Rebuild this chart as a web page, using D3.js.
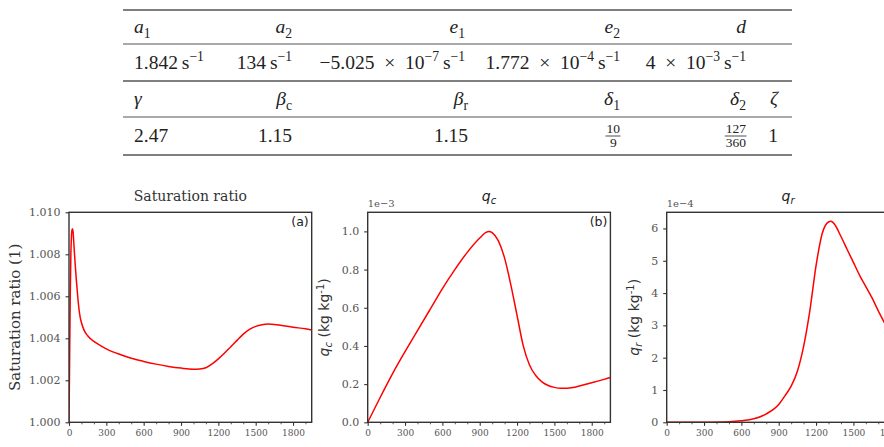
<!DOCTYPE html>
<html><head><meta charset="utf-8">
<script src="https://cdn.jsdelivr.net/npm/d3@7/dist/d3.min.js"></script>
<style>
html,body{margin:0;padding:0;background:#fff;}
svg{display:block;}
</style></head>
<body>
<svg id="chart" width="884" height="447"></svg>
<script>
// ---------------- DATA ----------------
const tableHead1 = ["a_1", "a_2", "e_1", "e_2", "d"];
const tableVal1 = ["1.842 s^-1", "134 s^-1", "−5.025 × 10^-7 s^-1", "1.772 × 10^-4 s^-1", "4 × 10^-3 s^-1"];
const tableHead2 = ["γ", "β_c", "β_r", "δ_1", "δ_2", "ζ"];
const tableVal2 = ["2.47", "1.15", "1.15", "10/9", "127/360", "1"];

const timeS = [0, 5, 10, 15, 20, 25, 30, 35, 40, 50, 60, 70, 80, 90, 100, 120, 150, 200, 250, 300, 400, 500, 600, 700, 800, 900, 1000, 1050, 1100, 1150, 1200, 1250, 1300, 1350, 1400, 1450, 1500, 1550, 1600, 1650, 1700, 1800, 1900, 1950];
const satRatio = [1.0000, 1.0030, 1.0060, 1.0080, 1.0089, 1.0092, 1.0092, 1.0089, 1.0084, 1.0075, 1.0067, 1.0060, 1.0054, 1.0050, 1.00475, 1.0044, 1.00412, 1.00385, 1.00366, 1.0035, 1.00325, 1.00305, 1.0029, 1.00277, 1.00266, 1.00258, 1.00253, 1.00254, 1.0026, 1.00278, 1.00302, 1.0033, 1.0036, 1.0039, 1.0042, 1.00443, 1.00457, 1.00465, 1.00468, 1.00466, 1.00462, 1.00453, 1.00445, 1.0044];

const timeQc = [0, 100, 200, 300, 400, 500, 550, 600, 700, 800, 900, 950, 975, 1000, 1050, 1100, 1150, 1200, 1250, 1300, 1350, 1400, 1450, 1500, 1550, 1600, 1650, 1700, 1800, 1900, 1950];
const qc = [0, 0.13, 0.255, 0.37, 0.48, 0.59, 0.645, 0.70, 0.80, 0.89, 0.965, 0.995, 1.0, 0.993, 0.95, 0.86, 0.72, 0.56, 0.40, 0.30, 0.245, 0.212, 0.193, 0.183, 0.178, 0.178, 0.182, 0.19, 0.207, 0.225, 0.235];

const timeQr = [0, 300, 500, 600, 700, 800, 900, 950, 1000, 1050, 1100, 1150, 1200, 1250, 1300, 1320, 1350, 1400, 1450, 1500, 1550, 1600, 1650, 1700, 1750, 1800, 1900, 1950];
const qr = [0, 0.005, 0.02, 0.05, 0.11, 0.26, 0.55, 0.82, 1.12, 1.58, 2.35, 3.45, 4.85, 5.85, 6.2, 6.22, 6.12, 5.75, 5.35, 4.95, 4.55, 4.2, 3.85, 3.45, 3.08, 2.75, 2.2, 2.0];

const xTicks = [0, 300, 600, 900, 1200, 1500, 1800];
const xMinor = [100, 200, 400, 500, 700, 800, 1000, 1100, 1300, 1400, 1600, 1700, 1900];
const yTicksA = [1.000, 1.002, 1.004, 1.006, 1.008, 1.010];
const yTicksB = [0.0, 0.2, 0.4, 0.6, 0.8, 1.0];
const yTicksC = [0, 1, 2, 3, 4, 5, 6];
const panelLetters = ["(a)", "(b)", null];
const offsetTexts = [null, "1e−3", "1e−4"];

// ---------------- LAYOUT ----------------
const svg = d3.select("#chart");
const SERIF = "Liberation Serif, Times New Roman, Times, serif";
const DJS = "DejaVu Serif, serif";
const DJSans = "DejaVu Sans, sans-serif";

function rich(g, x, y, anchor, str, size, headerMode) {
  const t = g.append("text").attr("x", x).attr("y", y).attr("text-anchor", anchor)
    .attr("font-family", SERIF).attr("font-size", size).attr("fill", "#222");
  let shift = 0;
  const addSeg = (txt, kind) => {
    let target = 0;
    if (kind === "sup") target = -0.42 * size;
    if (kind === "sub") target = 0.25 * size;
    const ts = t.append("tspan").text(txt);
    const dy = target - shift;
    if (dy !== 0) ts.attr("dy", dy);
    shift = target;
    if (kind === "sup" || kind === "sub") ts.attr("font-size", size * 0.7);
    if (kind === "it") ts.attr("font-style", "italic");
  };
  if (headerMode) {
    const parts = str.split("_");
    addSeg(parts[0], "it");
    if (parts[1]) addSeg(parts[1], "sub");
  } else {
    const toks = str.split(/(\^[^\s]+)/).filter(s => s.length);
    toks.forEach(tk => {
      if (tk[0] === "^") addSeg(tk.slice(1).replace("-", "−"), "sup");
      else addSeg(tk.replace(/ s/g, "\u2009s").replace(/ × /g, "\u2002×\u2002"), "n");
    });
  }
  return t;
}

function frac(g, xRight, yMid, str, size) {
  const [num, den] = str.split("/");
  const w = Math.max(num.length, den.length) * size * 0.5;
  const cx = xRight - w / 2;
  g.append("text").attr("x", cx).attr("y", yMid - 3).attr("text-anchor", "middle")
    .attr("font-family", SERIF).attr("font-size", size).attr("fill", "#222").text(num);
  g.append("text").attr("x", cx).attr("y", yMid + size * 0.85).attr("text-anchor", "middle")
    .attr("font-family", SERIF).attr("font-size", size).attr("fill", "#222").text(den);
  g.append("line").attr("x1", xRight - w - 1).attr("x2", xRight + 0.5).attr("y1", yMid).attr("y2", yMid)
    .attr("stroke", "#222").attr("stroke-width", 0.8);
}

// ---------- TABLE ----------
const tg = svg.append("g");
const tx0 = 123, tx1 = 792;
const rules = [{y: 10, w: 1.6}, {y: 44, w: 1}, {y: 81, w: 1.6}, {y: 117, w: 1}, {y: 155, w: 1.6}];
rules.forEach(r => tg.append("line").attr("x1", tx0).attr("x2", tx1).attr("y1", r.y).attr("y2", r.y)
  .attr("stroke", "#555").attr("stroke-width", r.w));
const cols1 = [{x: 134, a: "start"}, {x: 292, a: "end"}, {x: 465, a: "end"}, {x: 620, a: "end"}, {x: 746, a: "end"}];
const cols2 = [{x: 134, a: "start"}, {x: 292, a: "end"}, {x: 468, a: "end"}, {x: 620, a: "end"}, {x: 746, a: "end"}, {x: 778, a: "end"}];
const FS = 19.5;
tableHead1.forEach((h, i) => rich(tg, cols1[i].x, 33, cols1[i].a, h, FS, true));
tableVal1.forEach((v, i) => rich(tg, cols1[i].x, 69, cols1[i].a, v, FS, false));
tableHead2.forEach((h, i) => rich(tg, cols2[i].x, 105, cols2[i].a, h, FS, true));
tableVal2.forEach((v, i) => {
  if (v.includes("/")) frac(tg, cols2[i].x, 136, v, 13.5);
  else rich(tg, cols2[i].x, 142, cols2[i].a, v, FS, false);
});

// ---------- PANELS ----------
const pLeft = [69, 367.7, 666.7];
const pW = 242.7, pTop = 212.3, pBot = 422.3;
const x = d3.scaleLinear().domain([0, 1950]);
const panels = [
  {t: timeS, v: satRatio, dom: [1.000, 1.010], ticks: yTicksA, fmt: d3.format(".3f")},
  {t: timeQc, v: qc, dom: [0, 1.1], ticks: yTicksB, fmt: d3.format(".1f")},
  {t: timeQr, v: qr, dom: [0, 6.5], ticks: yTicksC, fmt: d3.format("d")}
];

panels.forEach((p, k) => {
  const g = svg.append("g").attr("transform", `translate(${pLeft[k]},0)`);
  const xs = x.copy().range([0, pW]);
  const ys = d3.scaleLinear().domain(p.dom).range([pBot, pTop]);
  const clipId = "clip" + k;
  g.append("clipPath").attr("id", clipId).append("rect").attr("x", 0).attr("y", pTop).attr("width", pW).attr("height", pBot - pTop);
  const line = d3.line().x((d, i) => xs(p.t[i])).y(d => ys(d)).curve(d3.curveMonotoneX);
  g.append("path").datum(p.v).attr("d", line).attr("fill", "none").attr("stroke", "#ff0000")
    .attr("stroke-width", 1.5).attr("clip-path", `url(#${clipId})`);

  g.append("rect").attr("x", 0).attr("y", pTop).attr("width", pW).attr("height", pBot - pTop)
    .attr("fill", "none").attr("stroke", "#333").attr("stroke-width", 1.4);

  const xa = g.append("g").attr("transform", `translate(0,${pBot})`)
    .call(d3.axisBottom(xs).tickValues(xTicks).tickSize(3.5).tickPadding(3.5).tickFormat(d3.format("d")));
  xa.select(".domain").remove();
  xa.selectAll(".tick line").attr("stroke", "#333").attr("stroke-width", 1.1);
  xa.selectAll("text").attr("font-family", DJS).attr("font-size", 9).attr("fill", "#555");
  const xm = g.append("g").attr("transform", `translate(0,${pBot})`)
    .call(d3.axisBottom(xs).tickValues(xMinor).tickSize(2).tickFormat(""));
  xm.select(".domain").remove();
  xm.selectAll(".tick line").attr("stroke", "#333").attr("stroke-width", 0.8);

  const ya = g.append("g").call(d3.axisLeft(ys).tickValues(p.ticks).tickSize(3.5).tickPadding(5).tickFormat(p.fmt));
  ya.select(".domain").remove();
  ya.selectAll(".tick line").attr("stroke", "#333").attr("stroke-width", 1.1);
  ya.selectAll("text").attr("font-family", DJS).attr("font-size", 11).attr("fill", "#555");

  if (panelLetters[k]) {
    g.append("text").attr("x", pW - 3).attr("y", pTop + 14).attr("text-anchor", "end")
      .attr("font-family", DJSans).attr("font-size", 12.5).attr("fill", "#222").text(panelLetters[k]);
  }
  if (offsetTexts[k]) {
    g.append("text").attr("x", 0).attr("y", pTop - 5).attr("font-family", DJS).attr("font-size", 10)
      .attr("fill", "#555").text(offsetTexts[k]);
  }
});

// titles
svg.append("text").attr("x", pLeft[0] + pW / 2).attr("y", 201).attr("text-anchor", "middle")
  .attr("font-family", DJS).attr("font-size", 14).attr("fill", "#333").text("Saturation ratio");
["c", "r"].forEach((s, i) => {
  const t = svg.append("text").attr("x", pLeft[i + 1] + pW / 2).attr("y", 201).attr("text-anchor", "middle")
    .attr("font-family", DJSans).attr("font-size", 14).attr("fill", "#222");
  t.append("tspan").attr("font-style", "italic").text("q");
  t.append("tspan").attr("font-style", "italic").attr("font-size", 10).attr("dy", 3).text(s);
});

// y labels
const yMid = (pTop + pBot) / 2;
svg.append("text").attr("transform", `translate(20,${yMid}) rotate(-90)`).attr("text-anchor", "middle")
  .attr("font-family", DJS).attr("font-size", 15).attr("fill", "#333").text("Saturation ratio (1)");
[{x: 329, s: "c"}, {x: 639, s: "r"}].forEach(o => {
  const t = svg.append("text").attr("transform", `translate(${o.x},${yMid}) rotate(-90)`).attr("text-anchor", "middle")
    .attr("font-family", DJSans).attr("font-size", 14).attr("fill", "#333");
  t.append("tspan").attr("font-style", "italic").text("q");
  t.append("tspan").attr("font-style", "italic").attr("font-size", 10).attr("dy", 3).text(o.s);
  t.append("tspan").attr("dy", -3).text(" (kg kg");
  t.append("tspan").attr("font-size", 10).attr("dy", -5).text("-1");
  t.append("tspan").attr("dy", 5).text(")");
});
</script>
</body></html>
